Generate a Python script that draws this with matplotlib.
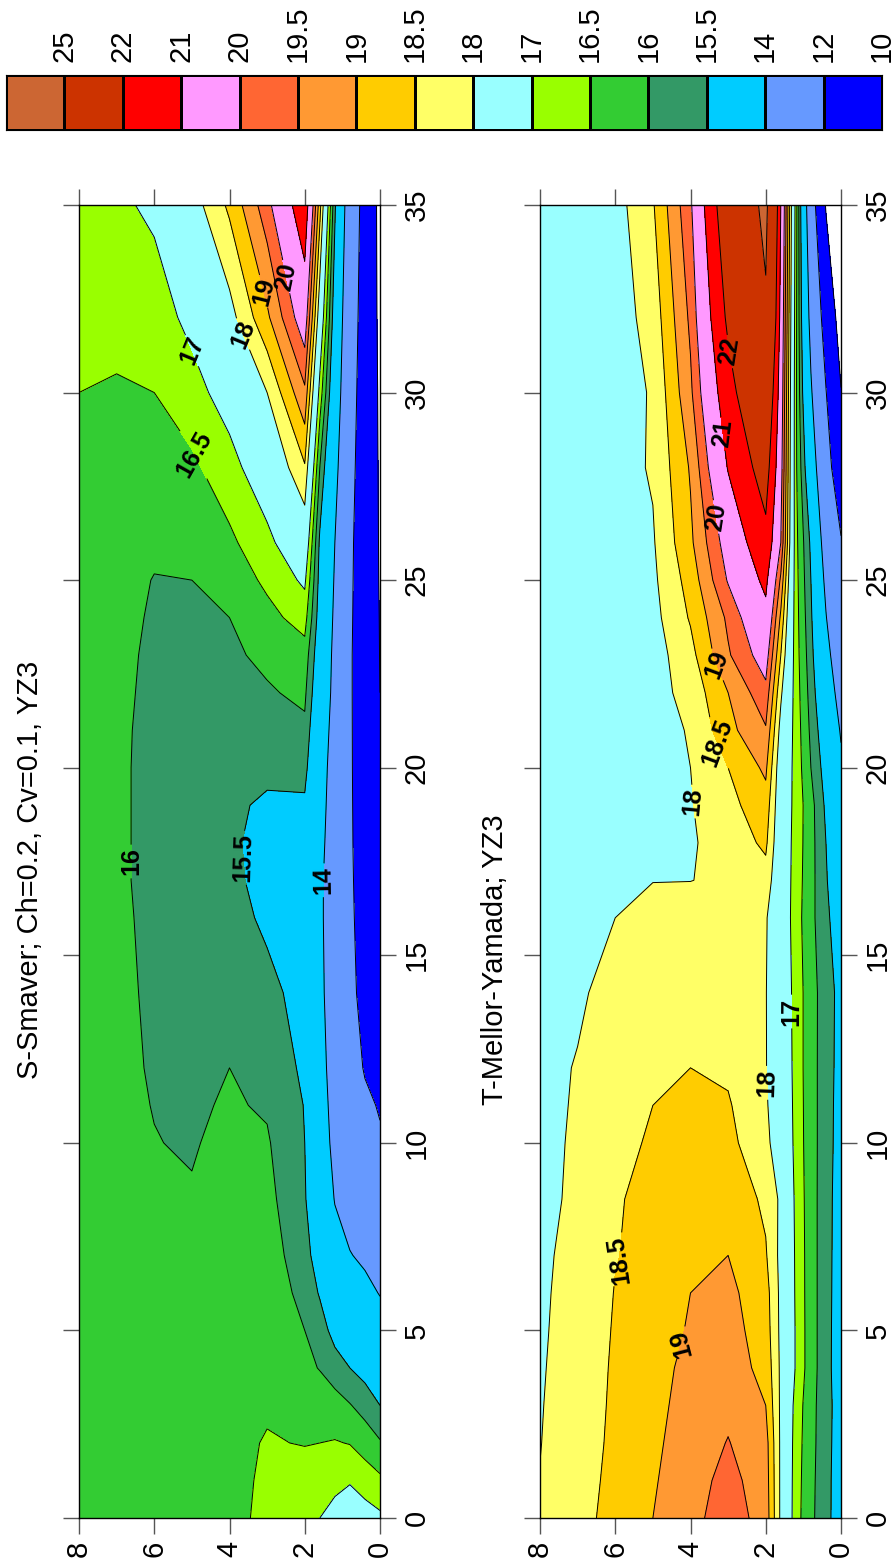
import numpy as np
import matplotlib.pyplot as plt
from matplotlib.colors import ListedColormap

plt.rcParams['font.family'] = ['Liberation Sans', 'DejaVu Sans']

# grid of the section: distance (vertical axis) and height above bottom (horizontal axis)
dist = [0, 1, 2, 3, 4, 5, 6, 7, 8.5, 10, 11, 12, 14, 16, 17, 18, 19, 20,
        21, 22, 23, 24, 25, 26, 28, 30, 32, 35]
height = [0, 0.4, 0.8, 1.2, 1.6, 2, 3, 4, 5, 6, 7, 8]

# S-Smaver run, one row per distance, one column per height
smag = [
    [17.1, 17.25, 17.4, 17.2, 17.0, 16.9, 16.58, 16.4, 16.3, 16.2, 16.15, 16.12],
    [16.6, 16.75, 16.95, 16.85, 16.75, 16.7, 16.56, 16.39, 16.28, 16.2, 16.15, 16.12],
    [16.05, 16.3, 16.48, 16.53, 16.5, 16.48, 16.53, 16.38, 16.25, 16.19, 16.15, 16.12],
    [15.5, 15.8, 16.03, 16.2, 16.25, 16.3, 16.45, 16.36, 16.22, 16.18, 16.15, 16.12],
    [15.0, 15.3, 15.5, 15.75, 15.98, 16.1, 16.4, 16.33, 16.2, 16.17, 16.14, 16.12],
    [14.5, 14.8, 15.0, 15.3, 15.75, 16.0, 16.35, 16.3, 16.17, 16.15, 16.13, 16.12],
    [13.95, 14.3, 14.5, 14.8, 15.45, 15.85, 16.3, 16.27, 16.14, 16.13, 16.12, 16.11],
    [13.5, 13.8, 14.05, 14.45, 15.2, 15.7, 16.25, 16.23, 16.1, 16.1, 16.11, 16.11],
    [12.8, 13.2, 13.5, 13.95, 14.9, 15.55, 16.15, 16.15, 16.03, 16.05, 16.1, 16.1],
    [12.15, 12.6, 13.0, 13.7, 14.6, 15.5, 16.05, 16.1, 15.97, 16.01, 16.09, 16.1],
    [11.9, 12.25, 12.8, 13.6, 14.5, 15.48, 15.95, 16.05, 15.93, 15.99, 16.08, 16.1],
    [11.75, 11.9, 12.6, 13.5, 14.4, 15.4, 15.85, 16.0, 15.9, 15.97, 16.08, 16.1],
    [11.4, 11.55, 12.35, 13.4, 14.25, 15.3, 15.65, 15.85, 15.85, 15.95, 16.07, 16.1],
    [11.0, 11.4, 12.25, 13.35, 14.2, 15.25, 15.4, 15.7, 15.82, 15.93, 16.06, 16.1],
    [10.85, 11.3, 12.22, 13.35, 14.2, 15.25, 15.33, 15.62, 15.81, 15.92, 16.05, 16.1],
    [10.7, 11.2, 12.2, 13.4, 14.3, 15.3, 15.3, 15.6, 15.8, 15.92, 16.05, 16.1],
    [10.5, 11.1, 12.2, 13.45, 14.4, 15.4, 15.4, 15.62, 15.8, 15.92, 16.05, 16.1],
    [10.35, 11.0, 12.2, 13.5, 14.5, 15.7, 15.65, 15.7, 15.8, 15.92, 16.05, 16.1],
    [10.15, 10.95, 12.2, 13.55, 14.7, 15.9, 15.8, 15.78, 15.82, 15.93, 16.05, 16.1],
    [10.0, 10.9, 12.2, 13.65, 14.9, 16.1, 15.95, 15.85, 15.85, 15.94, 16.06, 16.1],
    [9.97, 10.9, 12.2, 13.7, 15.05, 16.3, 16.1, 15.92, 15.9, 15.95, 16.07, 16.1],
    [9.95, 10.9, 12.25, 13.8, 15.2, 16.7, 16.35, 16.0, 15.95, 15.97, 16.08, 16.1],
    [9.92, 10.9, 12.3, 13.9, 15.3, 17.1, 16.6, 16.2, 16.0, 15.99, 16.1, 16.12],
    [9.9, 10.9, 12.35, 14.0, 15.4, 17.55, 16.85, 16.4, 16.12, 16.05, 16.15, 16.2],
    [9.85, 11.0, 12.55, 14.4, 16.0, 18.45, 17.4, 16.8, 16.4, 16.25, 16.3, 16.35],
    [9.8, 11.1, 12.75, 14.8, 16.8, 19.4, 18.0, 17.25, 16.8, 16.5, 16.45, 16.5],
    [9.7, 11.2, 12.95, 15.1, 17.6, 20.4, 18.9, 17.8, 17.15, 16.75, 16.65, 16.62],
    [9.6, 11.35, 13.2, 15.6, 18.7, 21.6, 19.8, 18.6, 17.75, 17.1, 16.9, 16.8],
]

# T-Mellor-Yamada run
mellor = [
    [15.1, 15.7, 16.1, 16.7, 17.9, 19.3, 19.75, 19.35, 19.0, 18.7, 18.3, 18.02],
    [15.12, 15.7, 16.12, 16.72, 17.9, 19.25, 19.65, 19.3, 18.95, 18.65, 18.27, 18.01],
    [15.15, 15.72, 16.14, 16.75, 17.9, 19.2, 19.52, 19.25, 18.9, 18.62, 18.22, 17.99],
    [15.17, 15.73, 16.15, 16.8, 17.9, 19.0, 19.4, 19.2, 18.85, 18.6, 18.18, 17.98],
    [15.1, 15.72, 16.2, 16.95, 17.9, 18.85, 19.25, 19.15, 18.8, 18.58, 18.15, 17.97],
    [15.12, 15.72, 16.2, 16.95, 17.88, 18.75, 19.2, 19.05, 18.75, 18.55, 18.13, 17.96],
    [15.15, 15.72, 16.2, 16.93, 17.87, 18.7, 19.12, 19.0, 18.7, 18.52, 18.12, 17.95],
    [15.17, 15.72, 16.2, 16.92, 17.85, 18.55, 19.0, 18.93, 18.65, 18.48, 18.1, 17.94],
    [15.2, 15.72, 16.2, 16.88, 17.9, 18.4, 18.85, 18.8, 18.62, 18.46, 18.05, 17.93],
    [15.25, 15.73, 16.2, 16.82, 17.75, 18.1, 18.65, 18.75, 18.55, 18.38, 18.04, 17.92],
    [15.27, 15.73, 16.2, 16.8, 17.7, 18.05, 18.55, 18.7, 18.5, 18.33, 18.03, 17.91],
    [15.3, 15.73, 16.2, 16.78, 17.65, 18.02, 18.42, 18.5, 18.4, 18.27, 18.02, 17.9],
    [15.32, 15.74, 16.2, 16.78, 17.55, 18.02, 18.35, 18.4, 18.3, 18.12, 17.95, 17.85],
    [15.2, 15.6, 16.15, 16.72, 17.5, 18.05, 18.3, 18.3, 18.15, 18.0, 17.9, 17.8],
    [15.0, 15.55, 16.17, 16.75, 17.5, 18.3, 18.1, 17.99, 17.99, 17.9, 17.85, 17.78],
    [14.8, 15.5, 16.18, 16.78, 17.5, 18.6, 18.2, 17.95, 17.9, 17.85, 17.8, 17.75],
    [14.5, 15.4, 16.18, 16.8, 17.55, 18.8, 18.35, 17.97, 17.9, 17.85, 17.8, 17.74],
    [14.2, 15.25, 16.0, 16.8, 17.6, 19.1, 18.5, 18.0, 17.9, 17.85, 17.8, 17.7],
    [13.9, 15.05, 15.9, 16.78, 17.8, 19.45, 18.85, 18.02, 17.9, 17.84, 17.78, 17.68],
    [13.5, 14.75, 15.8, 16.75, 18.1, 19.85, 19.0, 18.18, 17.8, 17.82, 17.77, 17.66],
    [13.1, 14.4, 15.7, 16.72, 18.5, 20.3, 19.44, 18.34, 17.77, 17.8, 17.76, 17.64],
    [12.7, 14.05, 15.6, 16.7, 18.9, 20.75, 19.6, 18.55, 17.84, 17.78, 17.74, 17.62],
    [12.35, 13.75, 15.5, 16.68, 19.4, 21.2, 20.05, 18.7, 17.9, 17.76, 17.72, 17.6],
    [12.1, 13.4, 15.4, 16.65, 20.0, 21.7, 20.3, 18.9, 17.95, 17.75, 17.7, 17.58],
    [11.0, 12.6, 14.8, 16.6, 20.3, 22.5, 21.05, 19.05, 18.05, 17.8, 17.66, 17.56],
    [10.05, 12.05, 14.15, 16.6, 20.5, 23.4, 21.6, 19.4, 18.05, 17.75, 17.62, 17.54],
    [9.3, 11.3, 13.6, 16.65, 20.7, 24.7, 22.2, 19.6, 18.2, 17.75, 17.58, 17.52],
    [8.0, 9.9, 12.9, 16.75, 21.0, 25.5, 22.9, 19.9, 18.45, 17.8, 17.6, 17.5],
]

levels = [10, 12, 14, 15.5, 16, 16.5, 17, 18, 18.5, 19, 19.5, 20, 21, 22, 25, 30]
colors = ['#0000FF', '#6699FF', '#00CCFF', '#339966', '#33CC33', '#99FF00',
          '#99FFFF', '#FFFF66', '#FFCC00', '#FF9933', '#FF6633', '#FF99FF',
          '#FF0000', '#CC3300', '#CC6633']
cbar_labels = ['25', '22', '21', '20', '19.5', '19', '18.5', '18', '17',
               '16.5', '16', '15.5', '14', '12', '10']

titles = ['S-Smaver; Ch=0.2, Cv=0.1, YZ3', 'T-Mellor-Yamada; YZ3']

# contour labels: (level, height, distance)
smag_lab = [(20, 2.45, 33.1), (19, 3.09, 32.7), (18, 3.79, 31.5), (17, 5.04, 31.1),
            (16.5, 5.04, 28.3), (16, 6.72, 17.5), (15.5, 3.63, 17.6), (14, 1.52, 17.0)]
mellor_lab = [(22, 2.91, 31.1), (21, 3.15, 28.9), (20, 3.23, 26.7), (19, 3.17, 22.8),
              (18.5, 3.17, 20.7), (18, 3.89, 19.1), (17, 1.36, 13.5), (18, 1.95, 11.6),
              (18.5, 5.95, 6.9), (19, 4.37, 4.7)]

W, H = 896, 1562
fig = plt.figure(figsize=(W / 100, H / 100), dpi=100)
D, S = np.meshgrid(height, dist)


def panel(x0, vals, labs):
    ax = fig.add_axes([x0 / W, 1 - 1518 / H, 301 / W, 1313 / H])
    Z = np.array(vals)
    ax.contourf(D, S, Z, levels=levels, colors=colors)
    lab_levels = sorted(set(l[0] for l in labs))
    plain = [v for v in levels[:-1] if v not in lab_levels]
    ax.contour(D, S, Z, levels=plain, colors='k', linewidths=0.7)
    texts = []
    for lev in lab_levels:
        cs = ax.contour(D, S, Z, levels=[lev], colors='k', linewidths=0.7)
        pts = [(d, s) for l, d, s in labs if l == lev]
        ax.clabel(cs, manual=pts, inline=True, fmt='%g', fontsize=18, inline_spacing=3)
        texts += cs.labelTexts
    for t in texts:
        t.set_fontweight('bold')
        t.set_rotation(t.get_rotation() % 180)
    ax.set_xlim(8, 0)
    ax.set_ylim(0, 35)
    xt = [8, 6, 4, 2, 0]
    yt = [0, 5, 10, 15, 20, 25, 30, 35]
    ax.set_xticks(xt, [str(v) for v in xt], rotation=90)
    ax.set_yticks(yt, [str(v) for v in yt], rotation=90, va='center')
    ax.tick_params(direction='out', length=11.5, width=1, color='#555555',
                   top=True, bottom=True, left=True, right=True,
                   labelleft=False, labelright=True, labelsize=21, pad=5)
    for sp in ax.spines.values():
        sp.set_linewidth(1)
    return ax


panel(79, smag, smag_lab)
panel(540, mellor, mellor_lab)

fig.text(30 / W, 1 - 870 / H, titles[0], rotation=90, ha='center', va='center', fontsize=21)
fig.text(495 / W, 1 - 960 / H, titles[1], rotation=90, ha='center', va='center', fontsize=21)

# colour key along the top
cax = fig.add_axes([6 / W, 1 - 130 / H, 876 / W, 55 / H])
cax.pcolormesh(np.arange(16), [0, 1], np.arange(15)[None, :],
               cmap=ListedColormap(colors[::-1]), edgecolors='k', linewidth=0.8)
cax.set_xlim(0, 15)
cax.set_ylim(0, 1)
cax.set_xticks(np.arange(1, 16), cbar_labels, rotation=90)
cax.set_yticks([])
cax.xaxis.tick_top()
cax.tick_params(length=0, labelsize=21, pad=9)

fig.savefig('out.png', dpi=100)
